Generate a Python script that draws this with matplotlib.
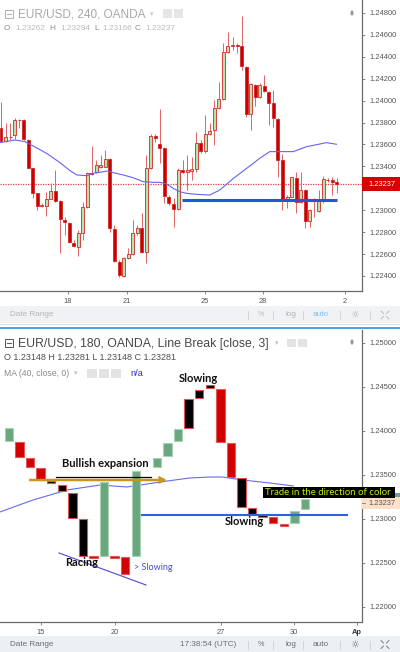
import matplotlib
matplotlib.use('Agg')
import matplotlib.pyplot as plt
from matplotlib.patches import Rectangle, Circle
from matplotlib.lines import Line2D
import numpy as np

plt.rcParams['font.family'] = ['Liberation Sans', 'DejaVu Sans']

# ---------------- data: top panel (EUR/USD 240, candles) ----------------
top_open = [1.23747, 1.23632, 1.23671, 1.23684, 1.23824, 1.23824, 1.23645, 1.23382, 1.23154, 1.23042,
            1.23039, 1.23106, 1.23176, 1.23084, 1.22911, 1.22880, 1.22704, 1.22668, 1.22789, 1.23027,
            1.23343, 1.23352, 1.23398, 1.23398, 1.23464, 1.22832, 1.22531, 1.22403, 1.22561, 1.22601,
            1.22789, 1.22841, 1.22616, 1.23382, 1.23681, 1.23604, 1.23565, 1.23124, 1.23057, 1.23008,
            1.23367, 1.23346, 1.23361, 1.23376, 1.23617, 1.23541, 1.23696, 1.23732, 1.23930, 1.24012,
            1.24447, 1.24502, 1.24505, 1.24499, 1.24310, 1.23878, 1.24143, 1.24030, 1.24134, 1.24082,
            1.23976, 1.23833, 1.23455, 1.23084, 1.23124, 1.23297, 1.23072, 1.23185, 1.22902, 1.23100,
            1.22996, 1.23106, 1.23276, 1.23276, 1.23261]
top_high = [1.23991, 1.23793, 1.23793, 1.23839, 1.23830, 1.23830, 1.23650, 1.23389, 1.23160, 1.23063,
            1.23169, 1.23245, 1.23367, 1.23093, 1.22941, 1.22896, 1.22728, 1.22820, 1.23078, 1.23352,
            1.23586, 1.23458, 1.23504, 1.23550, 1.23474, 1.22865, 1.22546, 1.22570, 1.22652, 1.22911,
            1.22865, 1.22972, 1.23504, 1.23696, 1.23693, 1.23922, 1.23580, 1.23139, 1.23109, 1.23382,
            1.23458, 1.23504, 1.23489, 1.23717, 1.23641, 1.23869, 1.23793, 1.24006, 1.24173, 1.24529,
            1.24630, 1.24584, 1.24523, 1.24776, 1.24316, 1.24158, 1.24152, 1.24158, 1.24234, 1.24091,
            1.24097, 1.23839, 1.23513, 1.23139, 1.23306, 1.23352, 1.23352, 1.23191, 1.23008, 1.23110,
            1.23185, 1.23315, 1.23291, 1.23300, 1.23291]
top_low = [1.23626, 1.23626, 1.23641, 1.23650, 1.23747, 1.23641, 1.23382, 1.23109, 1.23002, 1.23033,
           1.22950, 1.23100, 1.23078, 1.22607, 1.22774, 1.22701, 1.22668, 1.22582, 1.22728, 1.23017,
           1.23322, 1.23343, 1.23382, 1.23392, 1.22804, 1.22531, 1.22394, 1.22394, 1.22552, 1.22592,
           1.22774, 1.22607, 1.22515, 1.23373, 1.23626, 1.23428, 1.23063, 1.23048, 1.22850, 1.23002,
           1.23337, 1.23185, 1.23276, 1.23352, 1.23519, 1.23525, 1.23687, 1.23596, 1.23921, 1.24006,
           1.24432, 1.24462, 1.24432, 1.24280, 1.23854, 1.23732, 1.23951, 1.24021, 1.24082, 1.23778,
           1.23762, 1.23306, 1.23002, 1.23017, 1.23118, 1.22972, 1.23063, 1.22835, 1.22850, 1.22941,
           1.22987, 1.23063, 1.23261, 1.23139, 1.23160]
top_close = [1.23632, 1.23671, 1.23668, 1.23824, 1.23820, 1.23650, 1.23389, 1.23160, 1.23042, 1.23045,
             1.23100, 1.23179, 1.23087, 1.22917, 1.22890, 1.22707, 1.22677, 1.22789, 1.23027, 1.23337,
             1.23333, 1.23413, 1.23413, 1.23464, 1.22841, 1.22537, 1.22409, 1.22561, 1.22598, 1.22789,
             1.22841, 1.22616, 1.23382, 1.23681, 1.23660, 1.23571, 1.23133, 1.23063, 1.23011, 1.23367,
             1.23346, 1.23367, 1.23376, 1.23617, 1.23544, 1.23693, 1.23726, 1.23930, 1.24012, 1.24447,
             1.24499, 1.24505, 1.24502, 1.24316, 1.23878, 1.24149, 1.24036, 1.24143, 1.24091, 1.23982,
             1.23839, 1.23458, 1.23084, 1.23124, 1.23300, 1.23078, 1.23185, 1.22902, 1.23002, 1.23103,
             1.23106, 1.23282, 1.23279, 1.23261, 1.23237]
top_ma_x = [-0.22, 3.08, 5.29, 7.1, 10.06, 13.0, 15.2, 16.7, 18.9, 20.3, 22.5, 23.6, 24.7, 26.9, 29.1,
            31.3, 33.5, 35.0, 36.5, 37.9, 39.4, 40.9, 43.1, 46.0, 48.2, 51.2, 54.1, 57.0, 59.2, 61.4,
            64.4, 67.3, 70.3, 71.7, 73.9]
top_ma_y = [1.23617, 1.23641, 1.23626, 1.23586, 1.23519, 1.23434, 1.23361, 1.23322, 1.23315, 1.23337,
            1.23352, 1.23358, 1.23343, 1.23322, 1.23297, 1.23261, 1.23255, 1.23255, 1.23239, 1.23200,
            1.23169, 1.23154, 1.23145, 1.23139, 1.23185, 1.23291, 1.23382, 1.23474, 1.23535, 1.23535,
            1.23535, 1.23580, 1.23605, 1.23617, 1.23602]
top_last = 1.23237
top_support = 1.23093
top_support_span = [39.9, 74.0]
top_yticks = [1.224, 1.226, 1.228, 1.230, 1.234, 1.236, 1.238, 1.240, 1.242, 1.244, 1.246, 1.248]
top_date_pos = [14.76, 27.75, 44.93, 57.7, 75.77]
top_date_labels = ['18', '21', '25', '28', '2']
top_ohlc_letters = ['O', 'H', 'L', 'C']
top_ohlc_values = ['1.23262', '1.23294', '1.23166', '1.23237']

# ---------------- data: bottom panel (Line Break) ----------------
lb_slot = [0, 1, 2, 3, 4, 5, 6, 7, 8, 9, 10, 11, 12, 14, 15, 16, 17, 18, 19, 20, 21, 22, 23, 24, 25, 26, 27, 28]
lb_bottom = [1.23886, 1.23705, 1.23591, 1.23443, 1.23409, 1.23318, 1.23011, 1.22580, 1.22557, 1.22580,
             1.22557, 1.22375, 1.22580, 1.23591, 1.23716, 1.23886, 1.24034, 1.24375, 1.24489, 1.23875,
             1.23477, 1.23136, 1.23057, 1.23023, 1.22955, 1.22920, 1.22955, 1.23114]
lb_top = [1.24034, 1.23875, 1.23693, 1.23580, 1.23432, 1.23386, 1.23295, 1.23000, 1.22580, 1.23420,
          1.22580, 1.22568, 1.23545, 1.23693, 1.23864, 1.24023, 1.24364, 1.24466, 1.24523, 1.24477,
          1.23864, 1.23466, 1.23125, 1.23045, 1.23023, 1.22943, 1.23091, 1.23227]
lb_color = ['g', 'r', 'r', 'r', 'k', 'k', 'k', 'k', 'r', 'g', 'r', 'r', 'g', 'g', 'g', 'g', 'k', 'k', 'k',
            'r', 'r', 'k', 'k', 'k', 'r', 'r', 'g', 'g']
lb_ma_x = [-0.85, 2.27, 5.49, 8.61, 11.16, 12.39, 15.0, 17.1, 19.0, 20.2, 22.1, 24.7, 26.9]
lb_ma_y = [1.23080, 1.23216, 1.23330, 1.23386, 1.23364, 1.23386, 1.23432, 1.23466, 1.23477, 1.23477,
           1.23443, 1.23409, 1.23375]
lb_support = 1.23045
lb_support_span = [12.58, 31.98]
lb_arrow = 1.23443
lb_arrow_span = [1.99, 14.95]
lb_black = 1.23477
lb_black_span = [4.45, 13.43]
lb_racing_x = [4.73, 12.96]
lb_racing_y = [1.22614, 1.22250]
lb_yticks = [1.220, 1.225, 1.230, 1.235, 1.240, 1.245, 1.250]
lb_date_pos = [3.03, 10.03, 20.06, 26.96, 32.9]
lb_date_labels = ['15', '20', '27', '30', 'Ap']
lb_last = '1.23237'

# ---------------- figure ----------------
W, H = 400, 652
fig = plt.figure(figsize=(W / 100, H / 100), dpi=100)
fig.patch.set_facecolor('white')
renderer = fig.canvas.get_renderer()


def rect_px(l, t, r, b):
    return [l / W, 1 - b / H, (r - l) / W, (b - t) / H]


def ptext(x, y, s, size=6, color='#555555', w=None, ha='left', va='center', **kw):
    t = fig.text(x / W, 1 - y / H, s, fontsize=size, color=color, ha=ha, va=va, **kw)
    if w:
        bb = t.get_window_extent(renderer)
        if bb.width > 0:
            t.set_fontsize(size * w / bb.width)
    return t


def prect(l, t, r, b, fc, ec='none', lw=0, z=1):
    fig.patches.append(Rectangle((l / W, 1 - b / H), (r - l) / W, (b - t) / H, transform=fig.transFigure,
                                 facecolor=fc, edgecolor=ec, linewidth=lw, zorder=z))


def pline(xs, ys, color, lw=1.0, z=2):
    fig.lines.append(Line2D([x / W for x in xs], [1 - y / H for y in ys], transform=fig.transFigure,
                            color=color, lw=lw, zorder=z))


def style_axis(ax, yticks, fmt, dpos, dlabels):
    for s in ['left', 'top']:
        ax.spines[s].set_visible(False)
    for s in ['right', 'bottom']:
        ax.spines[s].set_color('#6a6a6a')
        ax.spines[s].set_linewidth(0.9)
    ax.yaxis.tick_right()
    ax.set_yticks(yticks)
    ax.set_yticklabels([fmt % v for v in yticks])
    ax.set_xticks(dpos)
    ax.set_xticklabels(dlabels)
    ax.tick_params(axis='both', direction='out', length=2.5, width=0.6, color='#777777',
                   labelsize=5.4, labelcolor='#555555', pad=2.5)
    ax.set_facecolor('white')


# ---------------- top panel ----------------
ax1 = fig.add_axes(rect_px(0, 0, 362, 291))
n = len(top_open)
xi = np.arange(n)
o = np.array(top_open); c = np.array(top_close); hh = np.array(top_high); ll = np.array(top_low)
up = c >= o
ax1.vlines(xi, ll, hh, color='#e26464', lw=0.7, zorder=2)
ax1.bar(xi, np.maximum(np.abs(c - o), 0.00002), bottom=np.minimum(o, c), width=0.66,
        color=['#b6e2b0' if u else '#cc0000' for u in up], edgecolor='#d32626', linewidth=0.6, zorder=3)
ax1.plot(top_ma_x, top_ma_y, color='#6464f0', lw=0.8, zorder=4)
ax1.axhline(top_last, color='#d84040', lw=0.9, ls=(0, (1, 1)), zorder=1)
ax1.plot(top_support_span, [top_support] * 2, color='#2056d8', lw=2.2, zorder=5, solid_capstyle='butt')
ax1.set_xlim(-0.22, 79.52)
ax1.set_ylim(1.22263, 1.249186)
style_axis(ax1, top_yticks, '%.5f', top_date_pos, top_date_labels)

# ---------------- bottom panel ----------------
ax2 = fig.add_axes(rect_px(0, 330, 362, 622))
fills = {'g': '#6aa77f', 'r': '#d20000', 'k': '#000000'}
edges = {'g': '#a6d4b3', 'r': '#e45a5a', 'k': '#e05050'}
lb_b = np.array(lb_bottom); lb_t = np.array(lb_top)
ax2.bar(lb_slot, lb_t - lb_b, bottom=lb_b, width=0.8, color=[fills[k] for k in lb_color],
        edgecolor=[edges[k] for k in lb_color], linewidth=0.8, zorder=3)
ax2.plot(lb_ma_x, lb_ma_y, color='#6a6af0', lw=0.8, zorder=2)
ax2.plot(lb_support_span, [lb_support] * 2, color='#2f62d6', lw=1.5, zorder=4)
ax2.plot(lb_black_span, [lb_black] * 2, color='black', lw=0.9, zorder=5)
ax2.annotate('', xy=(lb_arrow_span[1], lb_arrow), xytext=(lb_arrow_span[0], lb_arrow),
             arrowprops=dict(arrowstyle='->', color='#c8961e', lw=1.8, mutation_scale=9,
                             shrinkA=0, shrinkB=0), zorder=6)
ax2.plot(lb_racing_x, lb_racing_y, color='#4a4ad0', lw=0.8, zorder=4)
ax2.set_xlim(-0.851, 33.40)
ax2.set_ylim(1.218295, 1.251477)
style_axis(ax2, lb_yticks, '%.5f', lb_date_pos, lb_date_labels)
for t in ax2.get_xticklabels():
    if t.get_text() == 'Ap':
        t.set_fontweight('bold')
        t.set_color('#333333')

# ---------------- price tags ----------------
prect(362, 177, 400, 191, '#d50000', z=5)
ptext(368, 184.5, f'{top_last:.5f}', 5.4, 'white', zorder=6)
prect(362, 497, 400, 509, '#fde0c8', z=5)
pline([362, 365], [503, 503], '#777777', 0.6, z=6)
ptext(368, 503.5, lb_last, 5.4, '#555555', zorder=6)

# grey dots
for yy in (13, 342):
    fig.patches.append(Circle((352 / W, 1 - yy / H), 1.6 / W, transform=fig.transFigure,
                              facecolor='#9a9a9a', edgecolor='none', zorder=5))


# ---------------- headers ----------------
def collapse_icon(x, y, col):
    prect(x, y - 4, x + 8, y + 4, 'none', ec=col, lw=0.7, z=5)
    pline([x + 2, x + 6], [y, y], col, 0.7, z=5)


collapse_icon(4.5, 14, '#b0b0b0')
ptext(18, 14.5, 'EUR/USD, 240, OANDA', 8, '#a8a8a8', w=127)
ptext(152, 14, '\u25be', 5, '#c8c8c8', ha='center', family='DejaVu Sans')
prect(163, 9, 172, 18, '#e6e6e6', z=4)
prect(174, 9, 183, 18, '#e6e6e6', z=4)
tv = ptext(15, 28.5, top_ohlc_values[0], 6, '#bcbcbc', w=30)
vsize = tv.get_fontsize()
for xx, s in zip([60, 102, 145], top_ohlc_values[1:]):
    ptext(xx, 28.5, s, vsize, '#bcbcbc')
for xx, s in zip([4, 49, 94, 135], top_ohlc_letters):
    ptext(xx, 28.5, s, vsize, '#8c8c8c')

collapse_icon(4.5, 343, '#555555')
ptext(18, 343.5, 'EUR/USD, 180, OANDA, Line Break [close, 3]', 8, '#474747', w=252)
ptext(277, 343, '\u25be', 5, '#bdbdbd', ha='center', family='DejaVu Sans')
prect(287, 339, 296, 347, '#e3e3e3', z=4)
prect(298, 339, 307, 347, '#e3e3e3', z=4)
ptext(4, 357.5, 'O 1.23148 H 1.23281 L 1.23148 C 1.23281', 6, '#4f4f4f', w=173)
ptext(4, 373.5, 'MA (40, close, 0)', 6, '#8a8a8a', w=66)
ptext(76, 373, '\u25be', 5, '#bdbdbd', ha='center', family='DejaVu Sans')
for xx in (87, 99, 111):
    prect(xx, 369, xx + 10, 378, '#e3e3e3', z=4)
ptext(130, 373.5, 'n/a', 6, '#2a2ae6', w=13)

# ---------------- annotations ----------------
ptext(62, 463.5, 'Bullish expansion', 8, '#111111', w=87, family='Lato', fontweight='bold', zorder=7)
ptext(65, 562, 'Racing', 7, '#111111', w=33, family='Lato', fontweight='bold', zorder=7)
ptext(134, 567.5, '> Slowing', 6, '#4b4bd0', w=39, family='Lato', zorder=7)
ptext(179, 378.5, 'Slowing', 7, '#111111', w=40, family='Lato', fontweight='bold', zorder=7)
ptext(225, 521.5, 'Slowing', 7, '#111111', w=40, family='Lato', fontweight='bold', zorder=7)
prect(263, 487, 395, 497.5, '#000000', z=6)
prect(395, 493, 400, 497, '#6aa77f', z=6)
ptext(265, 492.5, 'Trade in the direction of color', 6, '#c2ec10', w=128, family='Lato', zorder=7)


# ---------------- footers ----------------
def footer(y0, y1, col, auto_col, with_time, bg):
    prect(0, y0, 400, y1, bg, z=0.5)
    yc = (y0 + y1) / 2 + 0.5
    t = ptext(10, yc, 'Date Range', 5.8, col, w=43)
    fs = t.get_fontsize()
    if with_time:
        ptext(180, yc, '17:38:54 (UTC)', fs, col)
    for xx in (248, 273, 303, 340, 370):
        pline([xx, xx], [yc - 4, yc + 4], '#d0d0d0', 0.6, z=2)
    ptext(261, yc, '%', fs * 0.9, col, ha='center')
    ptext(286, yc, 'log', fs, col, ha='center' if False else 'left')
    ptext(313, yc, 'auto', fs, auto_col)
    ptext(355, yc, '\u263c', 7, col, ha='center', family='DejaVu Sans')
    cx, cy = 385, yc
    for dx, dy in [(-1, -1), (1, -1), (-1, 1), (1, 1)]:
        pline([cx + dx * 1.5, cx + dx * 4], [cy + dy * 1.5, cy + dy * 4], col, 0.6, z=2)


footer(306, 323, '#b5b5b5', '#7cc0ec', False, '#f1f2f5')
pline([0, 400], [323.5, 323.5], '#dedede', 0.7)
pline([0, 400], [328, 328], '#43a0e4', 1.4)
footer(636, 652, '#6e6e6e', '#6e6e6e', True, '#eceff3')

fig.savefig('out.png', dpi=100, facecolor='white')
